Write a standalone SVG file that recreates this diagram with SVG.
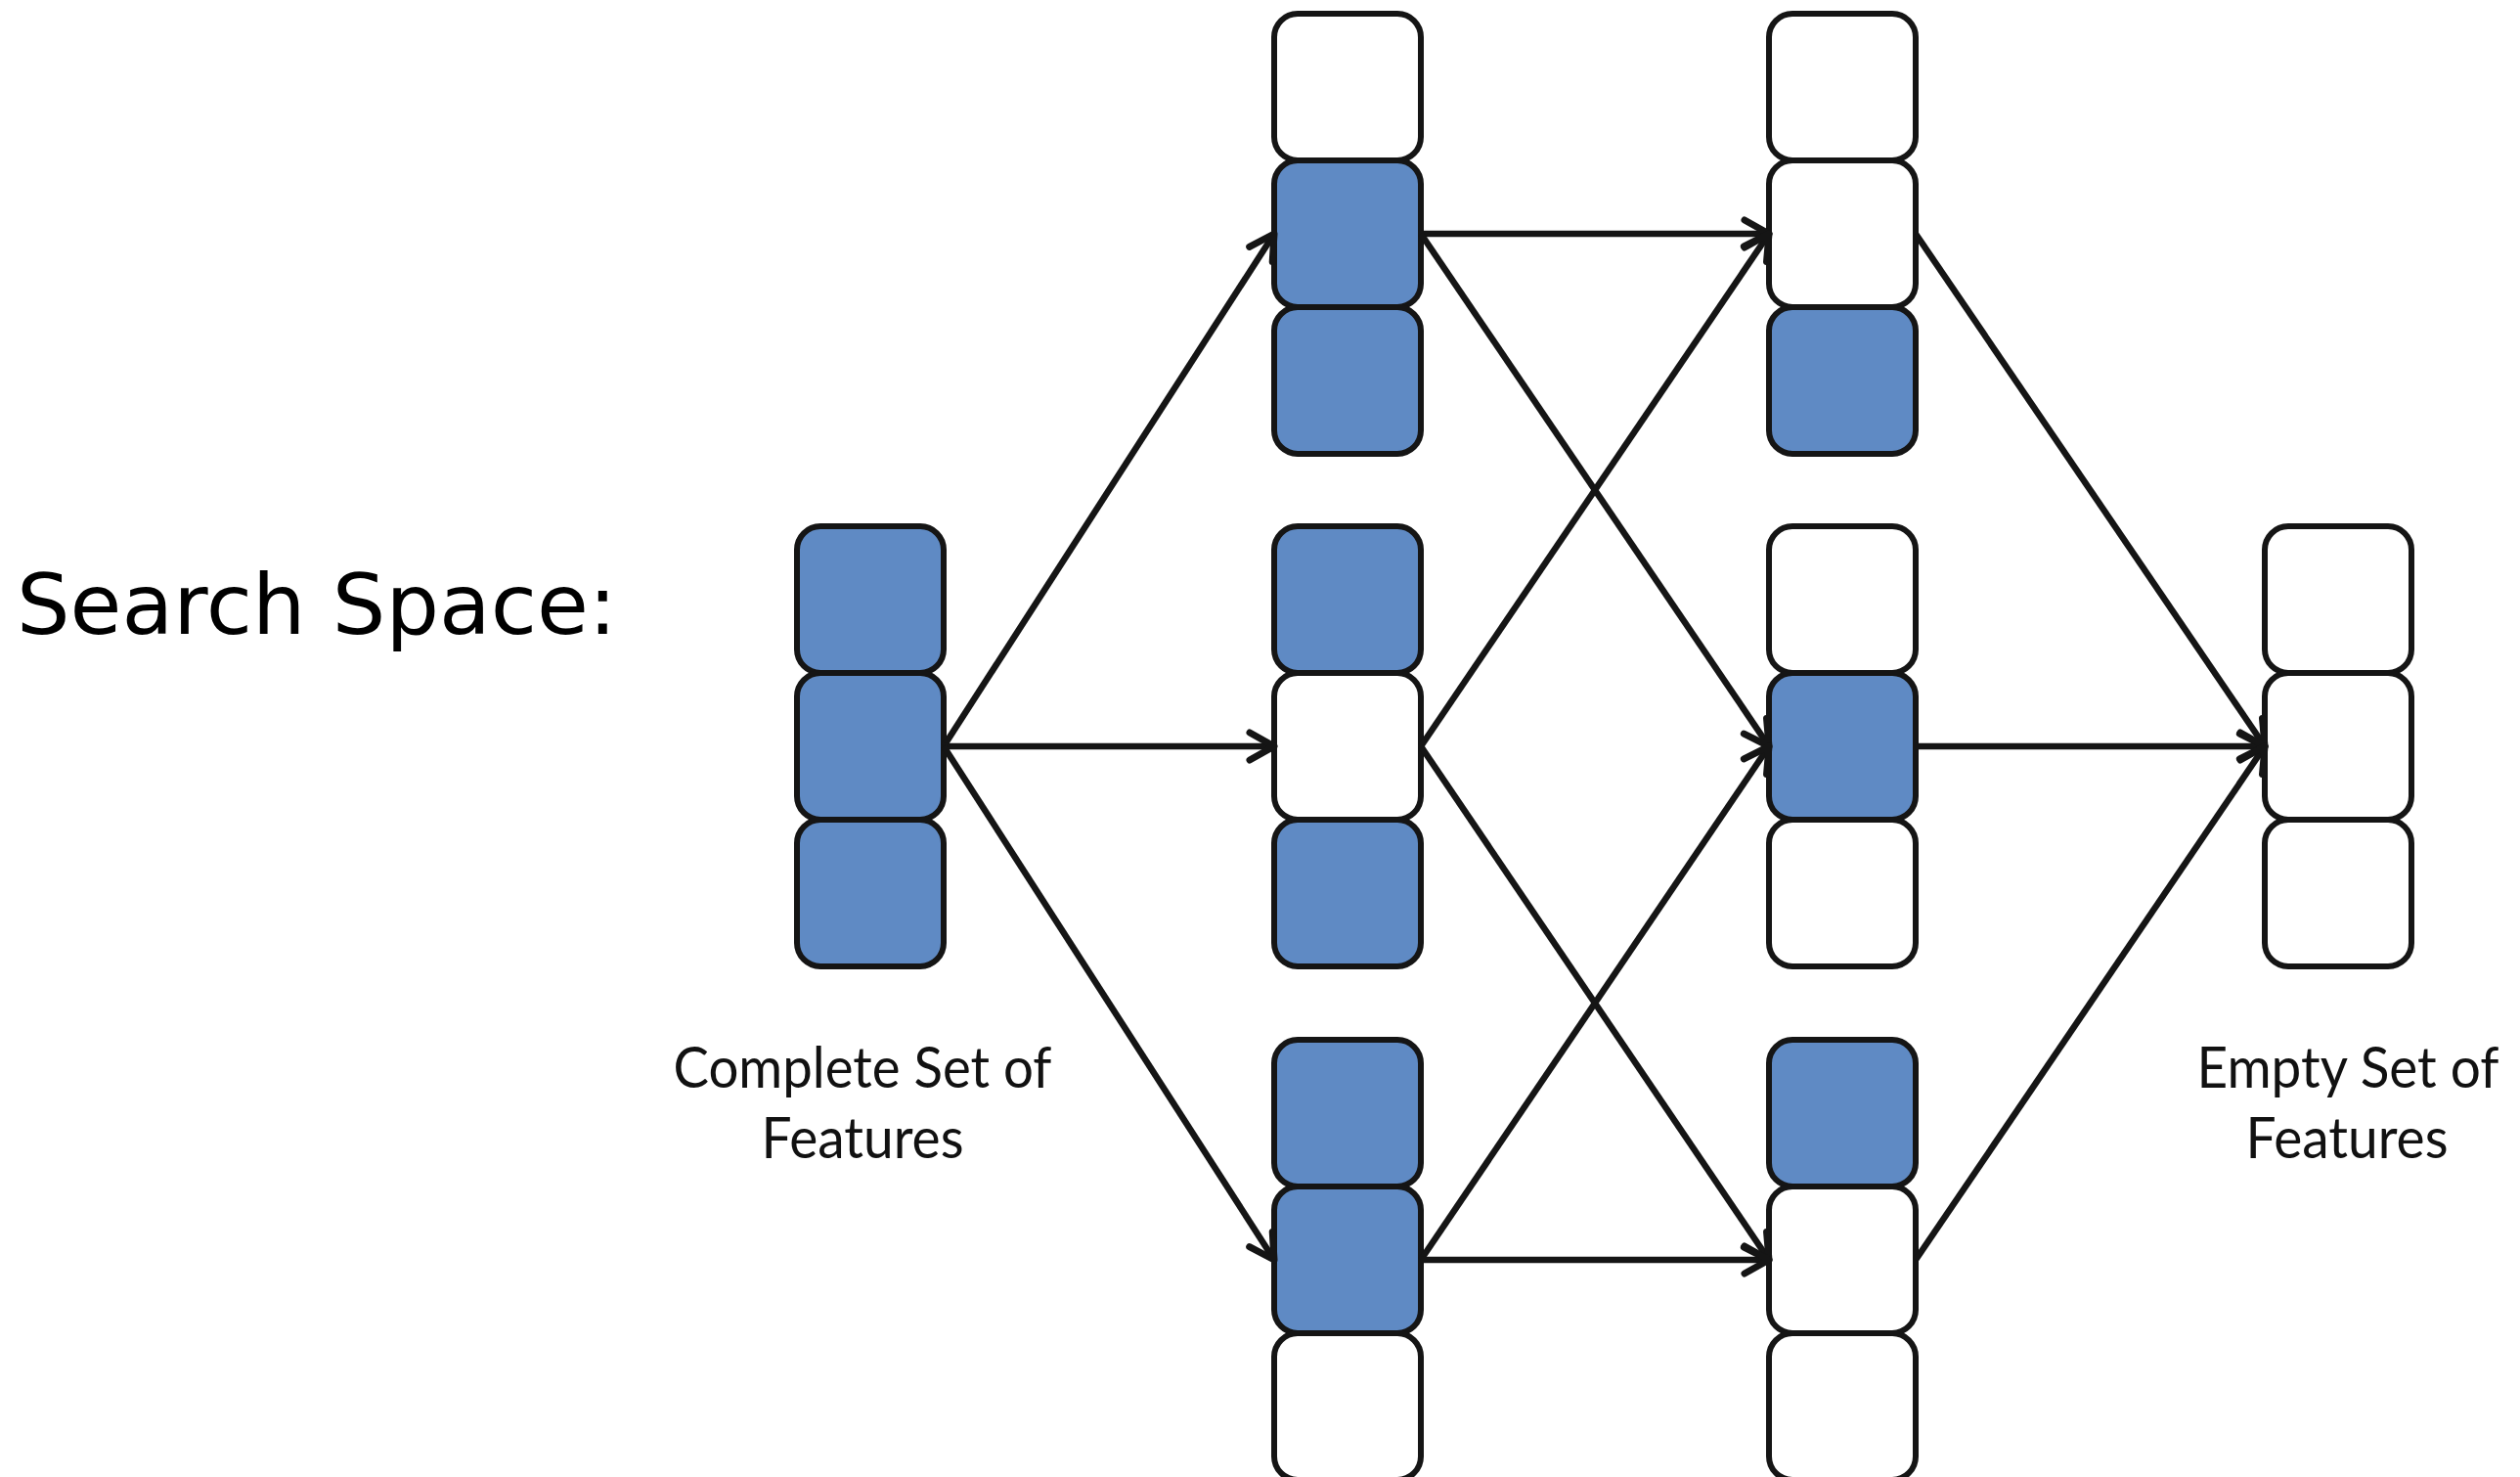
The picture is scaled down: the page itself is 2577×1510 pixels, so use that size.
<svg xmlns="http://www.w3.org/2000/svg" width="2577" height="1510" viewBox="0 0 2577 1510">
<defs>
<style>
.b{fill:#5F8AC4;stroke:#151515;stroke-width:6}
.w{fill:#FFFFFF;stroke:#151515;stroke-width:6}
.c{stroke:#151515;stroke-width:6.5;fill:none;marker-end:url(#ah)}
.lbl{font-family:Lato,"Open Sans","Liberation Sans",sans-serif;font-size:58px;fill:#111111;text-anchor:middle}
.title{font-family:"DejaVu Sans",Verdana,sans-serif;font-size:86px;fill:#000000}
</style>
<marker id="ah" markerUnits="userSpaceOnUse" markerWidth="40" markerHeight="40" refX="0" refY="0" viewBox="-30 -20 40 40" orient="auto" overflow="visible">
<path d="M -25 -14 L 0 0 L -25 14" fill="none" stroke="#151515" stroke-width="7" stroke-linecap="round" stroke-linejoin="round"/>
</marker>
</defs>
<rect width="2577" height="1510" fill="#FFFFFF"/>
<text class="title" x="17" y="648">Search Space:</text>
<g id="n0">
<rect class="b" x="815" y="538" width="150" height="150" rx="24"/>
<rect class="b" x="815" y="688" width="150" height="150" rx="24"/>
<rect class="b" x="815" y="838" width="150" height="150" rx="24"/>
</g>
<g id="n1a">
<rect class="w" x="1303" y="14" width="150" height="150" rx="24"/>
<rect class="b" x="1303" y="164" width="150" height="150" rx="24"/>
<rect class="b" x="1303" y="314" width="150" height="150" rx="24"/>
</g>
<g id="n1b">
<rect class="b" x="1303" y="538" width="150" height="150" rx="24"/>
<rect class="w" x="1303" y="688" width="150" height="150" rx="24"/>
<rect class="b" x="1303" y="838" width="150" height="150" rx="24"/>
</g>
<g id="n1c">
<rect class="b" x="1303" y="1063" width="150" height="150" rx="24"/>
<rect class="b" x="1303" y="1213" width="150" height="150" rx="24"/>
<rect class="w" x="1303" y="1363" width="150" height="150" rx="24"/>
</g>
<g id="n2a">
<rect class="w" x="1809" y="14" width="150" height="150" rx="24"/>
<rect class="w" x="1809" y="164" width="150" height="150" rx="24"/>
<rect class="b" x="1809" y="314" width="150" height="150" rx="24"/>
</g>
<g id="n2b">
<rect class="w" x="1809" y="538" width="150" height="150" rx="24"/>
<rect class="b" x="1809" y="688" width="150" height="150" rx="24"/>
<rect class="w" x="1809" y="838" width="150" height="150" rx="24"/>
</g>
<g id="n2c">
<rect class="b" x="1809" y="1063" width="150" height="150" rx="24"/>
<rect class="w" x="1809" y="1213" width="150" height="150" rx="24"/>
<rect class="w" x="1809" y="1363" width="150" height="150" rx="24"/>
</g>
<g id="n3">
<rect class="w" x="2316" y="538" width="150" height="150" rx="24"/>
<rect class="w" x="2316" y="688" width="150" height="150" rx="24"/>
<rect class="w" x="2316" y="838" width="150" height="150" rx="24"/>
</g>
<g id="labels">
<text class="lbl" x="882" y="1112" textLength="387" lengthAdjust="spacingAndGlyphs">Complete Set of</text>
<text class="lbl" x="882" y="1184" textLength="207" lengthAdjust="spacingAndGlyphs">Features</text>
<text class="lbl" x="2401" y="1112" textLength="309" lengthAdjust="spacingAndGlyphs">Empty Set of</text>
<text class="lbl" x="2400" y="1184" textLength="207" lengthAdjust="spacingAndGlyphs">Features</text>
</g>
<g id="connectors">
<line class="c" x1="965" y1="763" x2="1303" y2="239"/>
<line class="c" x1="965" y1="763" x2="1303" y2="763"/>
<line class="c" x1="965" y1="763" x2="1303" y2="1288"/>
<line class="c" x1="1453" y1="239" x2="1809" y2="239"/>
<line class="c" x1="1453" y1="239" x2="1809" y2="763"/>
<line class="c" x1="1453" y1="763" x2="1809" y2="239"/>
<line class="c" x1="1453" y1="763" x2="1809" y2="1288"/>
<line class="c" x1="1453" y1="1288" x2="1809" y2="763"/>
<line class="c" x1="1453" y1="1288" x2="1809" y2="1288"/>
<line class="c" x1="1959" y1="239" x2="2316" y2="763"/>
<line class="c" x1="1959" y1="763" x2="2316" y2="763"/>
<line class="c" x1="1959" y1="1288" x2="2316" y2="763"/>
</g>
</svg>
